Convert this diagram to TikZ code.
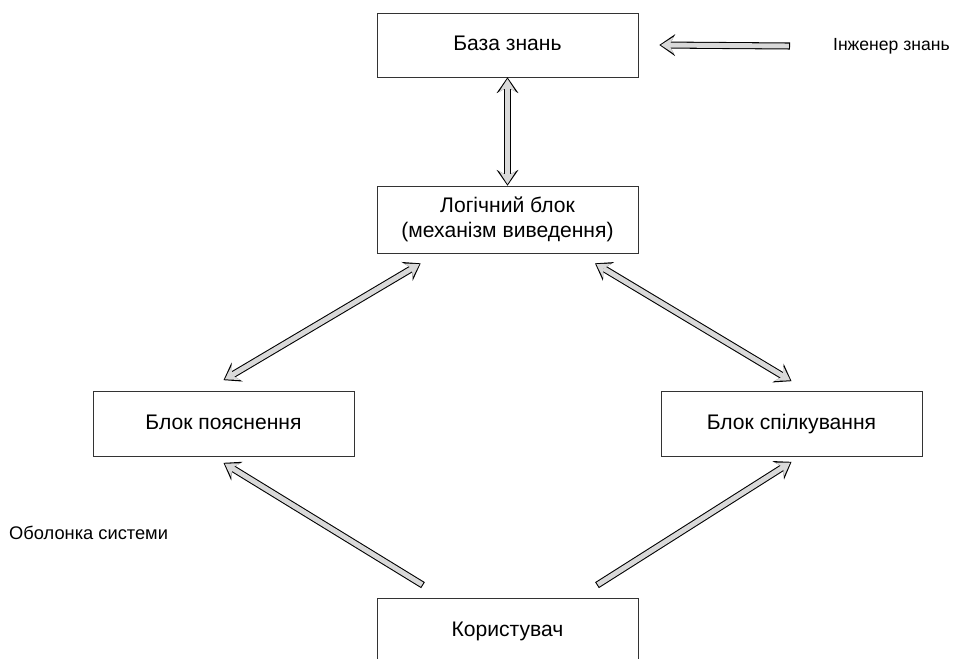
\documentclass[tikz,border=0pt]{standalone}
\usepackage{fontspec}
\setmainfont{Liberation Sans}
\usetikzlibrary{arrows.meta, positioning}

\tikzset{
  bigtip/.tip={Stealth[length=9pt, width=12.5pt, inset=3.4pt, line width=0pt]},
  smalltip/.tip={Stealth[length=7.5pt, width=9.8pt, inset=2.8pt, line width=0pt]},
}

\begin{document}
\begin{tikzpicture}[font=\fontsize{10}{12}\selectfont,
  block/.style={draw=black!80, thin, minimum width=5.22cm, minimum height=1.28cm, align=center,
    text depth=0.25em, font=\fontsize{12}{14}\selectfont},
  fat/.style={preaction={draw=black, line width=4pt, bigtip-bigtip, shorten >=0pt, shorten <=0pt},
    draw=gray!30, line width=2.8pt, smalltip-smalltip, shorten >=0.9pt, shorten <=0.9pt},
  fatone/.style={preaction={draw=black, line width=4pt, -bigtip, shorten >=0pt, shorten <=0pt},
    draw=gray!30, line width=2.8pt, -smalltip, shorten >=0.9pt, shorten <=0.6pt}]
  \useasboundingbox (0,0) rectangle (19.08,-13.16);

  \node[block] (kb) at (10.15,-0.9) {База знань};
  \node[block, minimum height=1.34cm, text depth=] (logic) at (10.15,-4.39) {Логічний блок\\(механізм виведення)};
  \node[block, minimum height=1.3cm] (expl) at (4.47,-8.48) {Блок пояснення};
  \node[block, minimum height=1.3cm] (comm) at (15.83,-8.48) {Блок спілкування};
  \node[block, minimum height=1.3cm] (user) at (10.15,-12.62) {Користувач};

  \node[anchor=west, inner sep=1pt] (eng) at (16.62,-0.92) {Інженер знань};
  \node[anchor=west, font=\fontsize{10.4}{12}\selectfont] (shell) at (0.06,-10.66) {Оболонка системи};

  % arrows between blocks
  \draw[fatone] ([xshift=-0.82cm]eng.west) -- ([xshift=0.42cm]kb.east);
  \draw[fat] (kb.south) -- (logic.north);
  \draw[fat] ([xshift=0.88cm,yshift=-0.2cm]logic.south west) -- ([yshift=0.22cm]expl.north);
  \draw[fat] ([xshift=1.75cm,yshift=-0.2cm]logic.south) -- ([yshift=0.2cm]comm.north);
  \draw[fatone] ([xshift=-1.69cm,yshift=0.26cm]user.north) -- ([yshift=-0.12cm]expl.south);
  \draw[fatone] ([xshift=1.79cm,yshift=0.26cm]user.north) -- ([yshift=-0.1cm]comm.south);
\end{tikzpicture}
\end{document}
